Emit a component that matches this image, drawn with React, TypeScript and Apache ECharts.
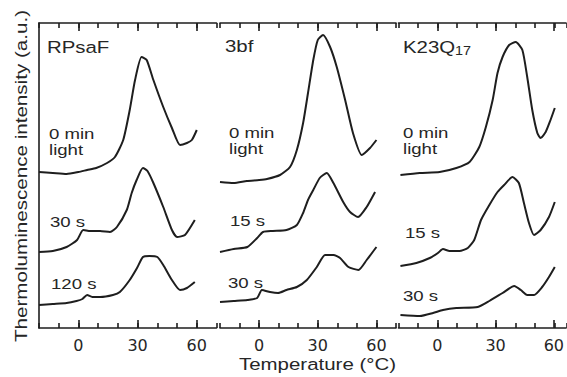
import React, { useEffect, useRef } from "react";
import * as echarts from "echarts";

// ---------- data (temperature °C, intensity a.u.) ----------
const panelTitles = ["RPsaF", "3bf", "K23Q"];
const panelTitleSub = "17";
const curveLabels = [
  ["0 min", "light", "30 s", "120 s"],
  ["0 min", "light", "15 s", "30 s"],
  ["0 min", "light", "15 s", "30 s"],
];
const majorTicks = [0, 30, 60];
const minorTickStep = 10;
const xMinValue = -20;
const xMaxValues = [70, 70, 66.3];
const yMaxValue = 305;

const rpsaf0min = [
  [-20, 156], [-13, 155], [-6, 154], [0, 156], [4.4, 158], [9, 160], [14.5, 165], [18.5, 171],
  [22.7, 188], [26, 218], [28.7, 248], [32, 271], [34.6, 268], [38, 248], [43, 221],
  [47.4, 200], [51.5, 183], [55, 185], [57.5, 188], [60, 198],
];
const rpsaf30s = [
  [-20, 76], [-13, 77], [-6, 81], [-0.7, 88], [2.4, 98], [6, 97], [11, 97], [16, 96],
  [19.5, 101], [24.5, 118], [27, 135], [29.5, 148], [32.7, 160], [35, 157], [38, 145], [43, 121],
  [47.4, 98], [50, 91], [54, 93], [59, 108],
];
const rpsaf120s = [
  [-20, 23], [-13, 24], [-6, 25], [-1, 27], [2, 29], [4.4, 33], [7, 31], [11, 31], [17.5, 33],
  [21, 36], [26, 48], [29.7, 60], [32.7, 71], [36, 72], [40, 71], [43, 63], [47.4, 48],
  [51.5, 38], [55, 40], [59, 46],
];
const bf0min = [
  [-20, 146], [-13, 145], [-6.3, 147], [0, 148], [4, 149], [10.7, 153], [15.8, 161], [19.3, 178],
  [22.5, 205], [25, 235], [27.7, 268], [30, 288], [32.7, 293], [36.3, 281], [39.7, 261],
  [44, 228], [48, 195], [52.5, 173], [56.7, 180], [60, 188],
];
const bf15s = [
  [-20, 76], [-13, 79], [-6, 81], [-1, 90], [2, 96], [7, 97], [14, 98], [19.3, 103],
  [22.5, 115], [25, 128], [27.7, 138], [31, 150], [34.6, 155], [38, 145], [43, 126],
  [46.5, 116], [50.6, 111], [55, 121], [59.3, 136],
];
const bf30s = [
  [-20, 26], [-13, 27], [-6, 28], [-1, 30], [1.4, 38], [5.6, 36], [9.7, 35], [14, 38],
  [19.3, 41], [24.4, 48], [29.5, 61], [33.7, 73], [38, 73], [41.4, 70], [45.7, 61],
  [50.8, 58], [55, 68], [60, 81],
];
const k23q0min = [
  [-19, 153], [-9, 155], [1.2, 156], [9.8, 160], [16.6, 166], [21.6, 181], [25, 201],
  [28.5, 228], [31, 255], [33.6, 271], [37, 283], [40.4, 286], [43.8, 278], [46.3, 251],
  [48.9, 218], [51.5, 195], [53.2, 190], [55.8, 196], [58.3, 208], [60.5, 220],
];
const k23q15s = [
  [-19, 62], [-10.8, 65], [-3.9, 70], [0.3, 75], [2.9, 79], [6.3, 77], [11.4, 77], [15.7, 80],
  [19, 88], [22.5, 108], [26.8, 123], [31, 136], [34.4, 143], [38.7, 151], [42, 145],
  [44.6, 125], [47.2, 105], [49.8, 93], [53.2, 98], [57.5, 111], [60.5, 126],
];
const k23q30s = [
  [-19, 13], [-9, 12], [-2.2, 15], [2.9, 18], [9.8, 20], [20.8, 21], [26.8, 27], [33.6, 35],
  [39.6, 42], [43, 38], [46.3, 33], [49.8, 33], [54, 41], [57.5, 51], [60.5, 61],
];
const panelCurves = [
  [rpsaf0min, rpsaf30s, rpsaf120s],
  [bf0min, bf15s, bf30s],
  [k23q0min, k23q15s, k23q30s],
];

// ---------- layout / style ----------
const gridRects = [
  { left: 39, top: 23, width: 177.5, height: 305 },
  { left: 220, top: 23, width: 176, height: 305 },
  { left: 398.5, top: 23, width: 168.5, height: 305 },
];
const INK = "#1e1e1e";
const TEXT = "#262626";
const LFONT = "Liberation Sans, Arial, sans-serif";

// label positions: [x, y-center]
const labelPos = [
  { title: [47, 47], l0: [49, 134], l1: [49, 150], l2: [50, 222.5], l3: [51, 284] },
  { title: [225, 46], l0: [229, 133], l1: [229, 149], l2: [230, 221], l3: [228, 283] },
  { title: [403, 47], l0: [403, 133], l1: [403, 149], l2: [405, 233.5], l3: [403, 296] },
];

function txt(text: string, x: number, y: number, size: number, sx: number, extra: any = {}) {
  return {
    type: "text",
    x,
    y,
    scaleX: sx,
    silent: true,
    style: {
      text,
      fill: TEXT,
      font: `${size}px ${LFONT}`,
      align: "left",
      verticalAlign: "middle",
    },
    ...extra,
  };
}

export default function App() {
  const ref = useRef<HTMLDivElement>(null);
  useEffect(() => {
    if (!ref.current) return;
    const chart = echarts.init(ref.current, undefined, { renderer: "svg" });

    const grids: any[] = [];
    gridRects.forEach((r) => grids.push({ ...r, containLabel: false }));
    gridRects.forEach((r) => grids.push({ ...r, containLabel: false }));

    // a tick exactly at 0 is dropped by customValues, nudge it imperceptibly
    const majorTickPositions = majorTicks.map((v) => (v === 0 ? 1e-9 : v));

    const xAxes: any[] = [];
    const yAxes: any[] = [];
    for (let i = 0; i < 3; i++) {
      for (const pos of ["bottom", "top"]) {
        xAxes.push({
          type: "value",
          gridIndex: i,
          min: xMinValue,
          max: xMaxValues[i],
          splitLine: { show: false },
          position: pos,
          axisLine: { show: true, onZero: false, lineStyle: { color: INK, width: 1.6 } },
          axisTick: {
            show: true,
            inside: true,
            length: 8,
            customValues: majorTickPositions,
            lineStyle: { color: INK, width: 1.6 },
          },
          axisLabel: {
            show: pos === "bottom",
            customValues: majorTicks,
            margin: 9,
            fontFamily: "DejaVu Sans",
            fontSize: 16,
            color: TEXT,
          },
        });
      }
      yAxes.push({
        type: "value",
        gridIndex: i,
        min: 0,
        max: yMaxValue,
        axisLine: { show: i === 0, onZero: false, lineStyle: { color: INK, width: 1.6 } },
        axisTick: { show: false },
        axisLabel: { show: false },
        splitLine: { show: false },
      });
    }
    for (let i = 0; i < 3; i++) {
      for (const pos of ["bottom", "top"]) {
        xAxes.push({
          type: "value",
          gridIndex: 3 + i,
          min: xMinValue,
          max: xMaxValues[i],
          interval: minorTickStep,
          position: pos,
          splitLine: { show: false },
          axisLine: { show: false, onZero: false },
          axisTick: { show: true, inside: true, length: 5, lineStyle: { color: INK, width: 1.6 } },
          axisLabel: { show: false },
        });
      }
      yAxes.push({
        type: "value",
        gridIndex: 3 + i,
        min: 0,
        max: yMaxValue,
        show: false,
        axisLine: { onZero: false },
      });
    }

    const series: any[] = [];
    panelCurves.forEach((curves, i) => {
      curves.forEach((d) => {
        series.push({
          type: "line",
          xAxisIndex: 2 * i,
          yAxisIndex: i,
          data: d,
          showSymbol: false,
          smooth: 0.2,
          lineStyle: { color: INK, width: 2 },
          silent: true,
        });
      });
    });

    const graphics: any[] = [];
    graphics.push(
      txt("Thermoluminescence intensity (a.u.)", 21, 176, 16.5, 1.25, {
        rotation: Math.PI / 2,
        style: {
          text: "Thermoluminescence intensity (a.u.)",
          fill: TEXT,
          font: `16.5px ${LFONT}`,
          align: "center",
          verticalAlign: "middle",
        },
      })
    );
    graphics.push(
      txt("Temperature (°C)", 317.5, 364, 16.5, 1.24, {
        style: {
          text: "Temperature (°C)",
          fill: TEXT,
          font: `16.5px ${LFONT}`,
          align: "center",
          verticalAlign: "middle",
        },
      })
    );
    labelPos.forEach((p, i) => {
      graphics.push(txt(panelTitles[i], p.title[0], p.title[1], 17, 1.2));
      graphics.push(txt(curveLabels[i][0], p.l0[0], p.l0[1], 15.5, 1.2));
      graphics.push(txt(curveLabels[i][1], p.l1[0], p.l1[1], 15.5, 1.2));
      graphics.push(txt(curveLabels[i][2], p.l2[0], p.l2[1], 15.5, 1.2));
      graphics.push(txt(curveLabels[i][3], p.l3[0], p.l3[1], 15.5, 1.2));
    });
    graphics.push(txt(panelTitleSub, 455, 51, 12, 1.2));

    chart.setOption({
      animation: false,
      backgroundColor: "#ffffff",
      grid: grids,
      xAxis: xAxes,
      yAxis: yAxes,
      series,
      graphic: graphics,
    });
    return () => chart.dispose();
  }, []);
  return (
    <div
      ref={ref}
      style={{ position: "fixed", left: 0, top: 0, width: 567, height: 377 }}
    />
  );
}
